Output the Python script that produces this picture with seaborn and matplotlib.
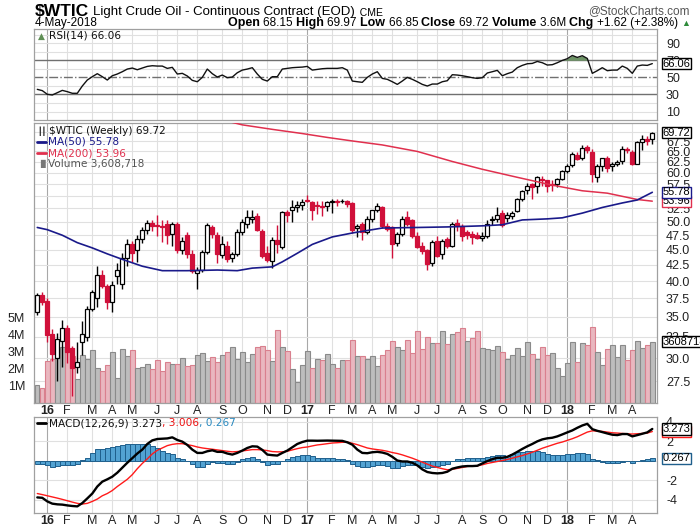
import numpy as np
import matplotlib
matplotlib.use("Agg")
import matplotlib.pyplot as plt
from matplotlib.ticker import FixedLocator, FixedFormatter, NullLocator
from matplotlib.transforms import blended_transform_factory
import seaborn as sns

# ---------------- data (weekly, Dec-2015 .. 4-May-2018) ----------------
month_ticks = [2, 6, 11, 15, 19, 24, 28, 32, 37, 41, 46, 50,
               54, 59, 63, 67, 71, 76, 80, 85, 89, 93, 98, 102,
               106, 111, 115, 119]
month_labels = ['16', 'F', 'M', 'A', 'M', 'J', 'J', 'A', 'S', 'O', 'N', 'D',
                '17', 'F', 'M', 'A', 'M', 'J', 'J', 'A', 'S', 'O', 'N', 'D',
                '18', 'F', 'M', 'A']

opens = [35.7, 38.0, 37.2, 32.8, 30.0, 32.0, 33.6, 31.1, 29.0, 31.8,
         32.4, 36.0, 37.5, 40.9, 39.3, 37.0, 40.8, 39.6, 43.6, 46.0,
         44.9, 46.9, 48.4, 49.8, 49.3, 49.1, 49.5, 47.8, 49.6, 45.0,
         47.6, 44.2, 41.2, 41.7, 44.6, 49.0, 47.5, 44.1, 45.7, 43.6,
         44.3, 48.0, 49.6, 50.4, 51.0, 48.2, 44.4, 43.1, 46.7, 45.4,
         51.9, 52.3, 52.8, 53.2, 54.1, 53.7, 53.1, 53.0, 53.0, 53.8,
         54.0, 53.9, 53.9, 53.6, 48.8, 49.6, 48.1, 50.5, 52.2, 52.7,
         49.2, 49.0, 46.1, 47.7, 50.8, 50.2, 47.4, 45.7, 44.9, 42.8,
         46.5, 44.2, 46.8, 45.6, 49.8, 49.2, 48.0, 47.8, 47.6, 47.0,
         47.3, 50.2, 50.4, 51.7, 50.7, 51.0, 52.1, 54.4, 56.3, 57.5,
         57.1, 58.7, 58.3, 57.5, 57.6, 58.6, 60.5, 61.7, 64.2, 63.4,
         66.0, 64.9, 59.1, 61.5, 63.4, 61.5, 62.0, 62.7, 65.6, 64.9,
         62.0, 67.4, 68.2, 68.15]
highs = [38.2, 38.4, 37.6, 33.5, 33.0, 34.6, 34.0, 31.4, 31.8, 34.5,
         36.4, 38.7, 42.3, 41.7, 39.6, 40.0, 42.8, 44.4, 46.8, 46.4,
         47.5, 48.9, 50.3, 50.2, 51.3, 50.3, 50.3, 50.0, 49.9, 47.2,
         48.0, 44.9, 42.2, 44.9, 49.8, 49.4, 48.0, 47.4, 46.4, 44.6,
         48.6, 50.5, 52.2, 52.2, 51.6, 48.6, 45.7, 47.2, 49.4, 52.0,
         52.3, 54.1, 54.0, 54.3, 55.2, 54.0, 54.0, 54.0, 54.0, 54.3,
         54.5, 54.4, 54.2, 53.8, 49.6, 49.9, 51.0, 52.3, 53.6, 53.0,
         49.8, 49.2, 48.0, 51.0, 52.0, 50.4, 48.0, 46.3, 45.1, 46.6,
         47.3, 46.8, 47.2, 50.0, 50.4, 49.6, 48.5, 48.2, 48.0, 48.0,
         50.3, 51.0, 52.8, 52.2, 51.8, 52.0, 54.6, 56.2, 57.7, 57.8,
         59.3, 59.4, 58.5, 58.4, 58.8, 60.7, 62.0, 64.8, 64.9, 66.6,
         66.7, 65.5, 62.0, 63.5, 64.0, 62.5, 63.0, 66.3, 66.2, 65.3,
         67.6, 69.1, 68.9, 69.97]
lows = [35.3, 36.6, 31.8, 29.7, 27.5, 29.0, 29.4, 26.0, 28.4, 30.3,
        32.0, 35.8, 36.3, 39.0, 36.0, 35.6, 39.6, 38.8, 42.3, 43.0,
        42.9, 46.2, 47.8, 48.3, 47.3, 46.3, 46.0, 45.6, 44.5, 44.3,
        43.7, 41.2, 38.9, 41.4, 44.2, 47.0, 42.8, 43.6, 43.0, 42.9,
        44.0, 47.6, 48.8, 49.7, 48.3, 43.7, 42.9, 42.0, 44.4, 45.1,
        50.0, 49.9, 51.8, 52.3, 53.7, 50.3, 51.5, 51.0, 52.0, 51.6,
        53.0, 53.5, 52.8, 47.9, 47.1, 46.7, 47.8, 50.0, 51.8, 48.8,
        48.3, 43.6, 45.6, 47.3, 49.2, 47.0, 45.2, 44.2, 41.7, 42.4,
        43.8, 43.5, 45.3, 45.4, 48.3, 46.5, 46.8, 45.9, 46.8, 46.5,
        47.0, 49.3, 50.0, 49.0, 49.9, 50.5, 51.8, 54.0, 55.5, 54.4,
        55.7, 57.2, 55.8, 56.0, 57.0, 58.3, 60.0, 61.3, 63.0, 63.0,
        64.6, 58.0, 57.9, 60.5, 60.2, 60.3, 61.5, 62.1, 64.6, 61.8,
        61.9, 65.4, 66.6, 66.85]
closes = [38.0, 37.0, 32.7, 30.5, 32.2, 33.6, 30.7, 28.9, 29.6, 32.8,
          36.1, 38.4, 40.9, 39.3, 37.0, 39.4, 41.7, 43.6, 46.0, 44.4,
          46.9, 48.4, 49.8, 49.2, 49.1, 48.9, 47.6, 49.6, 45.0, 46.5,
          44.2, 41.5, 41.7, 44.6, 49.3, 47.8, 44.2, 46.0, 43.5, 44.3,
          48.1, 49.9, 50.9, 50.9, 48.5, 44.0, 43.3, 46.6, 46.0, 51.9,
          51.3, 52.7, 53.2, 53.7, 54.0, 52.2, 52.9, 52.8, 53.7, 53.9,
          53.8, 54.0, 53.3, 48.5, 49.1, 48.1, 50.5, 52.2, 53.0, 49.2,
          48.7, 46.0, 47.7, 50.5, 49.6, 47.4, 45.5, 44.7, 42.7, 46.3,
          44.0, 46.5, 45.7, 49.6, 49.1, 47.4, 47.6, 47.2, 47.0, 47.3,
          49.6, 50.4, 51.3, 49.4, 51.3, 51.7, 54.4, 56.0, 57.2, 56.8,
          59.1, 58.4, 57.2, 57.3, 58.6, 60.5, 61.5, 64.4, 63.2, 65.8,
          65.3, 59.7, 61.5, 63.4, 61.2, 62.0, 62.5, 65.6, 65.3, 62.0,
          67.4, 68.2, 67.7, 69.72]
volume_m = [1.08, 0.9, 2.45, 2.57, 3.26, 3.3, 3.1, 2.75, 1.39, 2.8,
            2.6, 3.1, 2.08, 1.87, 2.26, 2.98, 1.49, 3.2, 2.79, 3.1,
            2.08, 2.14, 2.32, 1.98, 2.55, 1.91, 2.43, 2.3, 2.3, 2.67,
            2.16, 2.26, 2.8, 2.96, 2.45, 2.73, 2.43, 2.85, 2.98, 3.32,
            2.57, 2.98, 2.43, 2.9, 3.32, 3.38, 3.14, 2.45, 4.32, 3.32,
            3.04, 2.02, 1.22, 2.26, 3.04, 2.08, 2.6, 2.55, 2.9, 2.3,
            2.08, 2.55, 2.55, 3.73, 2.75, 2.79, 2.57, 2.79, 2.2, 2.85,
            3.1, 3.67, 3.32, 3.1, 3.73, 2.96, 4.22, 3.2, 3.9, 3.55,
            3.55, 4.22, 3.49, 4.08, 4.16, 4.43, 3.63, 3.85, 4.26, 3.26,
            3.2, 3.1, 3.38, 3.02, 2.61, 2.85, 3.26, 2.79, 3.61, 2.9,
            2.61, 3.32, 2.85, 2.96, 2.08, 1.61, 2.38, 3.61, 2.43, 3.55,
            3.43, 4.49, 3.02, 2.26, 3.2, 3.43, 2.73, 3.43, 2.51, 3.14,
            3.67, 3.26, 3.43, 3.608718]
ma50_idx = [0, 2, 5, 8, 11, 14, 17, 21, 25, 30, 36, 40, 43, 47, 49, 52, 55,
            59, 63, 69, 76, 82, 89, 93, 97, 102, 105, 109, 113, 117, 120, 123]
ma50_val = [48.9, 48.5, 47.5, 46.2, 45.3, 44.3, 43.4, 42.3, 41.6, 41.6, 41.7,
            41.6, 42.0, 42.2, 43.0, 44.4, 45.9, 47.2, 47.9, 48.8, 48.9, 49.0,
            49.2, 49.4, 50.3, 50.5, 50.7, 51.6, 52.7, 53.6, 54.2, 55.78]
ma200_idx = [38, 41, 47, 53, 58, 63, 69, 76, 83, 89, 96, 103, 109, 114, 120, 123]
ma200_val = [72.8, 71.8, 70.6, 69.5, 68.5, 67.6, 66.6, 65.0, 62.6, 60.8, 59.0,
             57.3, 56.1, 55.6, 54.3, 53.96]
rsi = [36.0, 34.5, 30.2, 29.4, 32.1, 34.8, 33.3, 31.4, 31.4, 39.9,
       46.9, 50.8, 54.3, 50.8, 46.9, 51.9, 53.9, 56.6, 59.7, 60.9,
       58.9, 60.9, 62.8, 63.6, 63.2, 63.2, 60.5, 61.7, 53.9, 54.7,
       51.6, 46.5, 44.9, 50.0, 59.7, 54.3, 50.4, 52.7, 49.6, 50.4,
       55.4, 58.5, 59.7, 61.3, 53.9, 47.7, 45.7, 50.8, 50.8, 59.7,
       60.5, 61.3, 61.7, 62.0, 62.8, 58.5, 59.3, 60.1, 60.5, 60.5,
       60.5, 61.3, 58.5, 45.7, 44.9, 44.2, 50.0, 53.9, 56.6, 48.8,
       47.7, 44.9, 41.8, 45.7, 50.0, 47.7, 44.9, 41.8, 39.9, 42.2,
       42.2, 44.9, 46.1, 53.1, 52.7, 51.9, 50.8, 49.6, 48.8, 49.6,
       55.1, 56.6, 58.2, 51.9, 54.3, 56.2, 61.3, 64.0, 65.9, 66.3,
       68.6, 67.1, 64.4, 64.8, 67.1, 69.8, 71.8, 75.6, 73.3, 75.3,
       72.1, 54.7, 57.8, 61.3, 57.8, 58.5, 58.5, 63.2, 60.5, 54.7,
       63.2, 64.4, 64.0, 66.06]
macd = [-3.76, -3.8, -4.17, -4.4, -4.47, -4.5, -4.58, -4.64, -4.68, -4.34,
        -3.86, -3.36, -2.64, -2.14, -1.9, -1.63, -1.22, -0.71, -0.2, 0.27,
        0.75, 1.15, 1.73, 2.1, 2.24, 2.27, 2.3, 2.41, 2.14, 1.97,
        1.63, 1.15, 0.81, 0.81, 0.98, 1.08, 0.92, 0.92, 0.75, 0.64,
        0.81, 1.05, 1.32, 1.49, 1.46, 1.12, 0.64, 0.58, 0.54, 0.81,
        1.05, 1.39, 1.73, 1.93, 2.07, 2.07, 2.06, 2.07, 2.08, 2.07,
        2.06, 2.05, 1.9, 1.66, 1.15, 0.81, 0.78, 0.88, 0.92, 0.85,
        0.71, 0.41, 0.03, -0.07, -0.07, -0.2, -0.47, -0.88, -1.15, -1.25,
        -1.29, -1.25, -1.12, -0.81, -0.68, -0.58, -0.54, -0.54, -0.51, -0.27,
        -0.03, 0.17, 0.31, 0.31, 0.41, 0.64, 0.92, 1.22, 1.49, 1.73,
        2.0, 2.2, 2.31, 2.37, 2.51, 2.71, 2.92, 3.12, 3.39, 3.63,
        3.8, 3.25, 3.08, 2.95, 2.81, 2.68, 2.64, 2.75, 2.75, 2.51,
        2.64, 2.78, 2.92, 3.273]
signal = [-3.36, -3.47, -3.59, -3.71, -3.83, -3.96, -4.1, -4.24, -4.37, -4.44,
          -4.37, -4.17, -3.93, -3.59, -3.36, -3.05, -2.64, -2.27, -1.9, -1.42,
          -0.81, -0.27, 0.2, 0.71, 1.08, 1.32, 1.56, 1.69, 1.76, 1.76,
          1.66, 1.56, 1.42, 1.32, 1.25, 1.19, 1.12, 1.05, 0.98, 0.92,
          0.95, 1.02, 1.08, 1.15, 1.15, 1.12, 1.05, 0.95, 0.92, 0.92,
          0.98, 1.12, 1.25, 1.36, 1.42, 1.53, 1.63, 1.69, 1.76, 1.83,
          1.86, 1.9, 1.93, 1.8, 1.66, 1.49, 1.32, 1.22, 1.15, 1.08,
          0.98, 0.85, 0.75, 0.61, 0.44, 0.27, 0.07, -0.14, -0.34, -0.54,
          -0.68, -0.81, -0.92, -0.88, -0.78, -0.68, -0.58, -0.54, -0.51, -0.41,
          -0.27, -0.17, -0.07, 0.03, 0.14, 0.27, 0.41, 0.54, 0.71, 0.88,
          1.08, 1.29, 1.46, 1.63, 1.8, 1.93, 2.1, 2.27, 2.47, 2.71,
          2.95, 3.08, 3.05, 3.02, 2.95, 2.88, 2.85, 2.81, 2.78, 2.75,
          2.78, 2.81, 2.85, 3.006]
hist = [-0.37, -0.37, -0.47, -0.64, -0.54, -0.44, -0.44, -0.47, -0.37, 0.1,
        0.3, 0.8, 1.22, 1.22, 1.29, 1.39, 1.49, 1.63, 1.73, 1.73,
        1.76, 1.76, 1.73, 1.56, 1.29, 1.05, 0.81, 0.71, 0.34, 0.14,
        0.0, -0.37, -0.61, -0.61, -0.37, -0.14, -0.2, -0.2, -0.31, -0.31,
        -0.17, 0.14, 0.34, 0.37, 0.2, -0.14, -0.41, -0.34, -0.34, -0.07,
        0.2, 0.44, 0.54, 0.58, 0.64, 0.47, 0.34, 0.31, 0.24, 0.24,
        0.2, 0.14, 0.07, -0.37, -0.54, -0.64, -0.64, -0.54, -0.44, -0.44,
        -0.54, -0.71, -0.71, -0.54, -0.47, -0.44, -0.47, -0.64, -0.78, -0.64,
        -0.54, -0.44, -0.31, -0.07, 0.2, 0.2, 0.27, 0.31, 0.24, 0.27,
        0.41, 0.54, 0.64, 0.58, 0.54, 0.71, 0.88, 0.95, 0.98, 1.05,
        0.98, 0.88, 0.75, 0.64, 0.64, 0.64, 0.71, 0.75, 0.81, 0.81,
        0.75, 0.2, 0.07, -0.14, -0.2, -0.2, -0.27, -0.14, -0.07, -0.2,
        0.0, 0.1, 0.14, 0.267]

price_levels = [27.5, 30.0, 32.5, 35.0, 37.5, 40.0, 42.5, 45.0, 47.5, 50.0,
                52.5, 55.0, 57.5, 60.0, 62.5, 65.0, 67.5, 70.0]
hidden_price_labels = [55.0, 70.0]   # fully covered by value tags in the reference
vol_levels = [1, 2, 3, 4, 5]
rsi_levels = [10, 30, 50, 70, 90]
macd_levels = [-4, -2, 0, 2, 4]

# ---------------- style ----------------
sns.set_style("white")
NARROW = ['Liberation Sans Narrow', 'Liberation Sans', 'DejaVu Sans']
SANS = ['Liberation Sans', 'DejaVu Sans']
VERD = ['DejaVu Sans']
plt.rcParams['font.family'] = SANS
plt.rcParams['axes.unicode_minus'] = False

W, H = 700, 530
fig = plt.figure(figsize=(7, 5.3), dpi=100)
fig.patch.set_facecolor('white')
L, R = 34, 657


def rect(top, bottom):
    return [L / W, 1 - bottom / H, (R - L) / W, (bottom - top) / H]


ax_r = fig.add_axes(rect(29, 120))
ax_v = fig.add_axes(rect(123, 403))
ax_p = fig.add_axes(rect(123, 403))
ax_m = fig.add_axes(rect(417, 513))

O = np.array(opens); Hh = np.array(highs); Lw = np.array(lows); C = np.array(closes)
n = len(C)
idx = np.arange(n)
XLIM = (-0.66, n - 0.06)
PLIM = (25.35, 72.3)
VMAX = 16.47

GRID = '#e0e0e0'
YGRID = '#a8a8a8'
SPINE = '#a0a0a0'
RED = '#d0103a'

for ax in (ax_r, ax_v, ax_p, ax_m):
    ax.set_xlim(*XLIM)

for ax in (ax_r, ax_v, ax_m):
    for t, lab in zip(month_ticks, month_labels):
        ax.axvline(t, color=YGRID if lab.isdigit() else GRID, lw=0.8, zorder=0)

# ---------------- price / volume ----------------
ax_p.set_yscale('log')
ax_p.set_ylim(*PLIM)
ax_v.set_ylim(0, VMAX)
lo, hi = np.log(PLIM[0]), np.log(PLIM[1])
for p in price_levels:
    f = (np.log(p) - lo) / (hi - lo)
    ax_v.axhline(f * VMAX, color=GRID, lw=0.8, zorder=0)

prev = np.concatenate([[O[0]], C[:-1]])
vup = C >= prev
ax_v.bar(idx, volume_m, width=0.88,
         color=np.where(vup, '#bdbdbd', '#e9b7bf'),
         edgecolor=np.where(vup, '#8a8a8a', '#d9808e'), lw=0.8, zorder=2)
ax_v.set_yticks(vol_levels)
ax_v.set_yticklabels([f"{v}M" for v in vol_levels])
ax_v.tick_params(axis='y', left=False, labelleft=True, labelright=False, pad=3,
                 labelsize=9, colors='#222222')
ax_v.tick_params(axis='x', bottom=False, labelbottom=False)
for s in ax_v.spines.values():
    s.set_visible(False)

ax_p.patch.set_visible(False)
up = C >= O
wick_c = np.where(up, 'black', RED)
ax_p.vlines(idx, Lw, Hh, colors=wick_c, lw=1.0, zorder=3)
body_lo = np.minimum(O, C)
body_h = np.maximum(np.abs(C - O), 0.06)
ax_p.bar(idx, body_h, bottom=body_lo, width=0.74,
         color=np.where(up, 'white', RED), edgecolor=np.where(up, 'black', RED),
         lw=0.9, zorder=4)

sns.lineplot(x=ma200_idx, y=ma200_val, ax=ax_p, color='#e0304e', lw=1.1, zorder=5)
sns.lineplot(x=ma50_idx, y=ma50_val, ax=ax_p, color='#1a1a8a', lw=1.2, zorder=5)
ax_p.set_ylim(*PLIM)
ax_p.set_xlim(*XLIM)

ax_p.yaxis.set_major_locator(FixedLocator(price_levels))
ax_p.yaxis.set_major_formatter(FixedFormatter(
    ["" if p in hidden_price_labels else f"{p:.1f}" for p in price_levels]))
ax_p.yaxis.set_minor_locator(NullLocator())
ax_p.tick_params(axis='y', which='both', left=False, right=False, labelleft=False,
                 labelright=True, pad=3, labelsize=9, colors='#222222')
ax_p.set_ylabel(''); ax_p.set_xlabel('')


def month_axis(ax, show):
    ax.set_xticks(month_ticks)
    if show:
        ax.set_xticklabels(month_labels)
        for tl in ax.get_xticklabels():
            if tl.get_text().isdigit():
                tl.set_fontweight('bold')
    else:
        ax.set_xticklabels([])
    ax.tick_params(axis='x', bottom=False, length=0, pad=1.5, labelsize=9,
                   colors='#222222', labelbottom=show)


month_axis(ax_p, True)
month_axis(ax_m, True)
month_axis(ax_r, False)

for ax in (ax_r, ax_p, ax_m):
    for s in ax.spines.values():
        s.set_color(SPINE)
        s.set_linewidth(0.9)

# ---------------- RSI ----------------
rsi_a = np.array(rsi)
ax_r.set_ylim(0.2, 106.5)
for lv in range(10, 101, 10):
    if lv not in (30, 50, 70):
        ax_r.axhline(lv, color=GRID, lw=0.8, zorder=0)
ax_r.axhline(70, color='#707070', lw=1.0, zorder=1)
ax_r.axhline(30, color='#707070', lw=1.0, zorder=1)
ax_r.axhline(50, color='#707070', lw=1.0, ls='-.', zorder=1)
ax_r.fill_between(idx, rsi_a, 70, where=rsi_a > 70, interpolate=True,
                  color='#6e9466', zorder=2, lw=0)
sns.lineplot(x=idx, y=rsi_a, ax=ax_r, color='#111111', lw=1.0, zorder=3)
ax_r.set_xlim(*XLIM)
ax_r.set_yticks(rsi_levels)
ax_r.set_yticklabels([str(v) for v in rsi_levels])
ax_r.tick_params(axis='y', left=False, right=False, labelleft=False, labelright=True,
                 pad=3, labelsize=9, colors='#222222')
ax_r.set_ylabel(''); ax_r.set_xlabel('')

# ---------------- MACD ----------------
ax_m.set_ylim(-5.36, 4.5)
for lv in macd_levels:
    ax_m.axhline(lv, color=GRID, lw=0.8, zorder=0)
ax_m.bar(idx, hist, width=1.0, color='#52a2d2', edgecolor='#1f5f8c', lw=0.7, zorder=2)
sns.lineplot(x=idx, y=signal, ax=ax_m, color='#ff1a1a', lw=1.0, zorder=3)
sns.lineplot(x=idx, y=macd, ax=ax_m, color='black', lw=1.7, zorder=4)
ax_m.set_xlim(*XLIM)
ax_m.set_yticks(macd_levels)
ax_m.set_yticklabels(["" if v == 0 else str(v) for v in macd_levels])
ax_m.tick_params(axis='y', left=False, right=False, labelleft=False, labelright=True,
                 pad=3, labelsize=9, colors='#222222')
ax_m.set_ylabel(''); ax_m.set_xlabel('')


# ---------------- value tags ----------------
def tag(ax, y, s, ec, trans=None, tc='black'):
    xy_trans = trans if trans is not None else blended_transform_factory(ax.transAxes, ax.transData)
    ax.annotate(s, xy=(1.0, y), xycoords=xy_trans, xytext=(4, 0),
                textcoords='offset points', ha='left', va='center', fontsize=8,
                color=tc, family=SANS,
                bbox=dict(boxstyle='square,pad=0.06', fc='white', ec=ec, lw=1.0),
                annotation_clip=False, zorder=20)


tag(ax_r, rsi[-1], f"{rsi[-1]:.2f}", 'black')
tag(ax_p, volume_m[-1], "3608718", 'black',
    trans=blended_transform_factory(ax_p.transAxes, ax_v.transData))
tag(ax_p, ma200_val[-1], f"{ma200_val[-1]:.2f}", '#e0304e')
tag(ax_p, ma50_val[-1], f"{ma50_val[-1]:.2f}", '#1a1a8a')
tag(ax_p, closes[-1], f"{closes[-1]:.2f}", 'black')
tag(ax_m, signal[-1], f"{signal[-1]:.3f}", '#ff1a1a')
tag(ax_m, macd[-1], f"{macd[-1]:.3f}", 'black')
tag(ax_m, hist[-1], f"{hist[-1]:.3f}", '#1f5f8c')

# ---------------- text helpers ----------------
renderer = fig.canvas.get_renderer()


def runs(x_px, y_px, parts, ha='left', family=NARROW, va='baseline'):
    objs = []
    x = x_px
    for s, size, weight, color in parts:
        t = fig.text(x / W, 1 - y_px / H, s, fontsize=size, fontweight=weight,
                     color=color, family=family, va=va, ha='left')
        x += t.get_window_extent(renderer=renderer).width
        objs.append(t)
    if ha == 'right':
        total = x - x_px
        for t in objs:
            px, py = t.get_position()
            t.set_position((px - total / W, py))
    return objs


# header
runs(35, 15.5, [("$WTIC", 12.5, 'bold', 'black'), (" ", 9, 'normal', 'black'),
                ("Light Crude Oil - Continuous Contract (EOD)", 9.5, 'normal', 'black'),
                ("  CME", 7.5, 'normal', 'black')])
runs(690, 14, [("@StockCharts.com", 8.5, 'normal', '#555555')], ha='right')
runs(35, 26, [("4-May-2018", 8.5, 'normal', 'black')])
runs(690, 26, [("Open ", 9, 'bold', 'black'), ("68.15 ", 8.5, 'normal', 'black'),
               ("High ", 9, 'bold', 'black'), ("69.97 ", 8.5, 'normal', 'black'),
               ("Low ", 9, 'bold', 'black'), ("66.85 ", 8.5, 'normal', 'black'),
               ("Close ", 9, 'bold', 'black'), ("69.72 ", 8.5, 'normal', 'black'),
               ("Volume ", 9, 'bold', 'black'), ("3.6M ", 8.5, 'normal', 'black'),
               ("Chg ", 9, 'bold', 'black'), ("+1.62 (+2.38%) ", 8.5, 'normal', 'black'),
               ("\u25b2", 6.5, 'normal', '#2e8b3a')], ha='right')

# panel legends
LEG = 7.6
runs(38, 36, [("\u25b2", 6.5, 'normal', '#5f8f55')], family=VERD, va='center')
runs(49, 36, [("RSI(14) 66.06", LEG, 'normal', '#111111')], family=VERD, va='center')

runs(37, 131, [("\u2503\u2503", 5.5, 'bold', '#222222')], family=VERD, va='center')
runs(49, 131, [("$WTIC (Weekly) 69.72", LEG, 'normal', '#111111')], family=VERD, va='center')
for ypx, col, label in [(142, '#1a1a8a', "MA(50) 55.78"), (153, '#e0304e', "MA(200) 53.96")]:
    fig.add_artist(plt.Line2D([37 / W, 46 / W], [1 - ypx / H, 1 - ypx / H], color=col, lw=2.0))
    runs(48, ypx, [(label, LEG, 'normal', col)], family=VERD, va='center')
runs(37, 164, [("\u2590\u258c", 5.5, 'normal', '#777777')], family=VERD, va='center')
runs(48, 164, [("Volume 3,608,718", LEG, 'normal', '#555555')], family=VERD, va='center')

fig.add_artist(plt.Line2D([37 / W, 46 / W], [1 - 423 / H, 1 - 423 / H], color='black', lw=2.0))
runs(49, 423, [("MACD(12,26,9) 3.273", LEG, 'normal', '#111111'),
               (", 3.006", LEG, 'normal', '#ee1111'),
               (", 0.267", LEG, 'normal', '#2a8ac0')], family=VERD, va='center')

fig.savefig('out.png', dpi=100)
